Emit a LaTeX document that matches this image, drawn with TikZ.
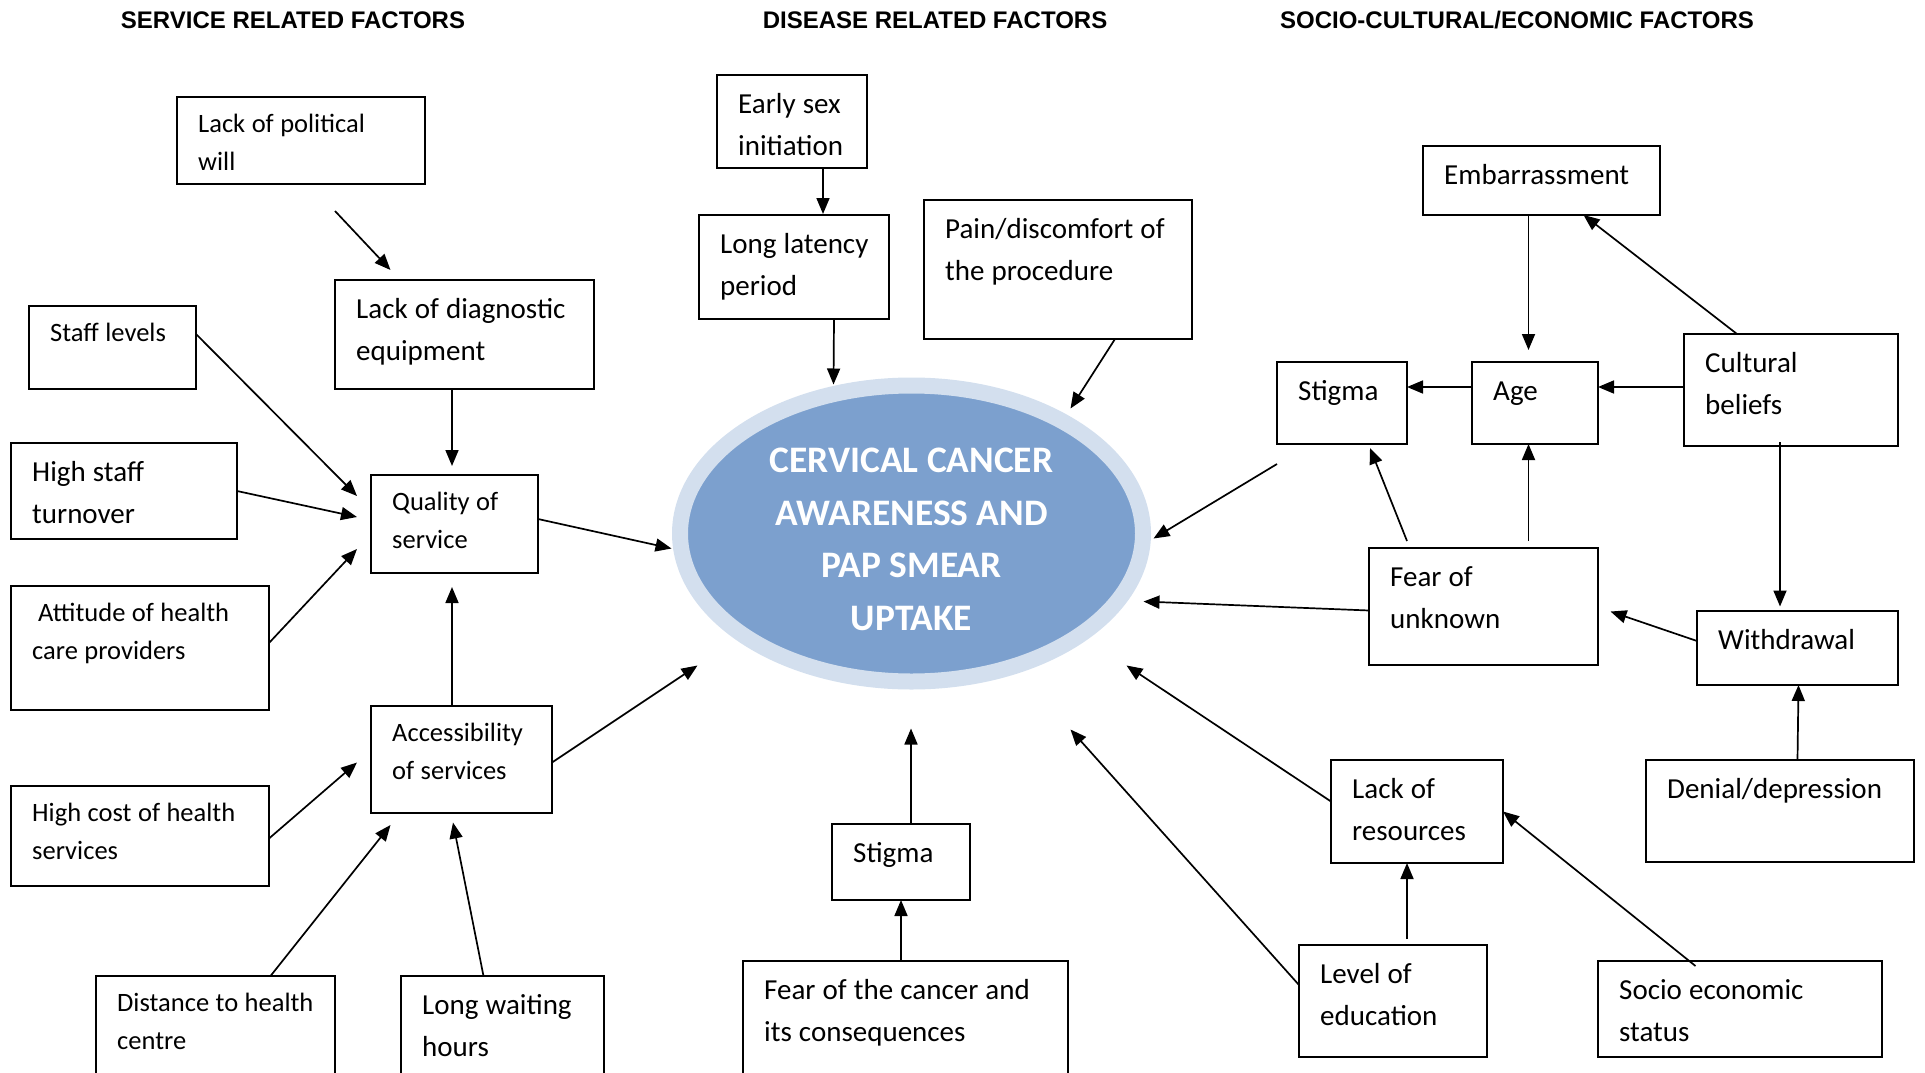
\documentclass[tikz,border=0pt]{standalone}
\usepackage{fontspec}
\setmainfont{Carlito}
\newfontfamily\headfont{Liberation Sans}
\usetikzlibrary{shapes.geometric,arrows.meta}

\definecolor{coreblue}{RGB}{124,160,206}
\definecolor{ringblue}{RGB}{211,223,238}

\tikzset{
  fbox/.style={draw, line width=1.8pt, anchor=north west, inner sep=0pt, outer sep=0pt},
  ftext/.style={anchor=north west, inner sep=0pt, align=left,
    execute at begin node={\spaceskip=0.245em\relax}},
  bigtxt/.style={font=\fontsize{29}{42}\selectfont, text height=38.5pt},
  smalltxt/.style={font=\fontsize{26.5}{38}\selectfont, text height=35pt},
  arr/.style={-{Triangle[length=16pt,width=13pt]}, line width=1.7pt},
  head/.style={font=\headfont\bfseries\fontsize{24}{28}\selectfont},
  goal/.style={ellipse, draw=ringblue, line width=16pt, fill=coreblue,
    minimum width=463pt, minimum height=296pt, inner sep=0pt, outer sep=0pt},
  goaltxt/.style={text=white, align=center, inner sep=0pt,
    font=\bfseries\fontsize{37.4}{52.6}\selectfont}
}

\begin{document}
\begin{tikzpicture}[x=1pt, y=-1pt]
    \useasboundingbox (0,0) rectangle (1925,1073);

    % ---------- headings ----------
    \node[head] (h-serv) at (293,20) {SERVICE RELATED FACTORS};
    \node[head] (h-dis)  at (935,20) {DISEASE RELATED FACTORS};
    \node[head] (h-soc)  at (1517,20) {SOCIO-CULTURAL/ECONOMIC FACTORS};

    % ---------- outcome ----------
    \node[goal] (goal) at (911.5,533.5) {};
    \node[goaltxt] (goal-t) at ([shift={(0,6)}]goal.center) {CERVICAL CANCER\\AWARENESS AND\\PAP SMEAR\\UPTAKE};

    % ---------- factor boxes (small text) ----------
    \foreach \n/\xa/\ya/\xb/\yb/\txt in {
        pol/177/97/425/184/{Lack of political\\will},
        staff/29/306/196/389/{Staff levels},
        qual/371/475/538/573/{Quality of\\service},
        att/11/586/269/710/{\hspace*{6pt}Attitude of health\\care providers},
        acc/371/706/552/813/{Accessibility\\of services},
        cost/11/786/269/886/{High cost of health\\services},
        dist/96/976/335/1080/{Distance to health\\centre}
    }{
        \pgfmathsetmacro\tw{\xb-\xa-29}
        \node[fbox, minimum width=\xb-\xa, minimum height=\yb-\ya] (\n) at (\xa,\ya) {};
        \node[ftext, smalltxt, text width=\tw pt] (\n-t) at ([xshift=21pt]\n.north west) {\txt};
    }

    % ---------- factor boxes (large text) ----------
    \foreach \n/\xa/\ya/\xb/\yb/\txt in {
        diag/335/280/594/389/{Lack of diagnostic\\equipment},
        turn/11/443/237/539/{High staff\\turnover},
        wait/401/976/604/1080/{Long waiting\\hours},
        early/717/75/867/168/{Early sex\\initiation},
        lat/699/215/889/319/{Long latency\\period},
        pain/924/200/1192/339/{Pain/discomfort of\\the procedure},
        stigc/832/824/970/900/{Stigma},
        fearc/743/961/1068/1080/{Fear of the cancer and\\its consequences},
        emb/1423/146/1660/215/{Embarrassment},
        stigr/1277/362/1407/444/{Stigma},
        age/1472/362/1598/444/{Age},
        cult/1684/334/1898/446/{Cultural\\beliefs},
        unk/1369/548/1598/665/{Fear of\\unknown},
        wd/1697/611/1898/685/{Withdrawal},
        den/1646/760/1914/862/{Denial/depression},
        res/1331/760/1503/863/{Lack of\\resources},
        edu/1299/945/1487/1057/{Level of\\education},
        ses/1598/961/1882/1057/{Socio economic\\status}
    }{
        \pgfmathsetmacro\tw{\xb-\xa-29}
        \node[fbox, minimum width=\xb-\xa, minimum height=\yb-\ya] (\n) at (\xa,\ya) {};
        \node[ftext, bigtxt, text width=\tw pt] (\n-t) at ([xshift=21pt]\n.north west) {\txt};
    }

    % ---------- service related links ----------
    \draw[arr] ([shift={(34,27)}]pol.south) -- ([shift={(-74,-10)}]diag.north);
    \draw[arr] ([xshift=-12.5pt]diag.south) -- ([shift={(-2.5,-9)}]qual.north);
    \draw[arr] ([shift={(0,28)}]staff.north east) -- ([shift={(-14,-28)}]qual.west);
    \draw[arr] (turn.east) -- ([shift={(-14,-7)}]qual.west);
    \draw[arr] ([shift={(0,-5)}]att.east) -- ([shift={(-14,25)}]qual.west);
    \draw[arr] ([shift={(0,-5)}]qual.east) -- ([shift={(-240,15)}]goal.center);
    \draw[arr] ([xshift=-9.5pt]acc.north) -- ([shift={(-2.5,14)}]qual.south);
    \draw[arr] ([shift={(0,3)}]acc.east) -- ([shift={(-214,132)}]goal.center);
    \draw[arr] ([shift={(0,2.5)}]cost.east) -- ([shift={(-14,3)}]acc.west);
    \draw[arr] ([xshift=55pt]dist.north) -- ([shift={(-71,12)}]acc.south);
    \draw[arr] ([xshift=-19pt]wait.north) -- ([shift={(-8.5,9.5)}]acc.south);

    % ---------- disease related links ----------
    \draw[arr] ([xshift=31pt]early.south) -- ([shift={(29,-1)}]lat.north);
    \draw[arr] ([xshift=40pt]lat.south) -- ([shift={(-78,-149)}]goal.center);
    \draw[arr] ([xshift=57pt]pain.south) -- ([shift={(159,-125)}]goal.center);
    \draw[arr] ([xshift=10pt]stigc.north) -- ([shift={(-0.5,195)}]goal.center);
    \draw[arr] ([xshift=-4.5pt]fearc.north) -- (stigc.south);

    % ---------- socio-cultural/economic links ----------
    \draw[arr] ([xshift=-13pt]emb.south) -- ([shift={(-6.5,-12)}]age.north);
    \draw[arr] ([xshift=-54pt]cult.north) -- ([xshift=42pt]emb.south);
    \draw[arr] ([shift={(0,-3)}]cult.west) -- ([shift={(0,-16)}]age.east);
    \draw[arr] ([shift={(0,-16)}]age.west) -- ([shift={(0,-16)}]stigr.east);
    \draw[arr] ([shift={(45,-7)}]unk.north) -- ([xshift=-6.5pt]age.south);
    \draw[arr] ([shift={(-76.5,-7)}]unk.north) -- ([shift={(28,4)}]stigr.south);
    \draw[arr] ([shift={(0,20)}]stigr.south west) -- ([shift={(242,5)}]goal.center);
    \draw[arr] ([shift={(0,4)}]unk.west) -- ([shift={(232,68)}]goal.center);
    \draw[arr] ([shift={(-11,-4)}]cult.south) -- ([shift={(-17.5,-4.5)}]wd.north);
    \draw[arr] ([shift={(0,-7)}]wd.west) -- ([shift={(12.5,5)}]unk.east);
    \draw[arr] ([xshift=17.5pt]den.north) -- ([xshift=1pt]wd.south);
    \draw[arr] ([shift={(0,-10)}]res.west) -- ([shift={(215,132)}]goal.center);
    \draw[arr] ([shift={(14,-6)}]edu.north) -- ([xshift=-10pt]res.south);
    \draw[arr] ([shift={(-44.5,5)}]ses.north) -- (res.east);
    \draw[arr] ([shift={(0,-16)}]edu.west) -- ([shift={(159,196)}]goal.center);

\end{tikzpicture}
\end{document}
